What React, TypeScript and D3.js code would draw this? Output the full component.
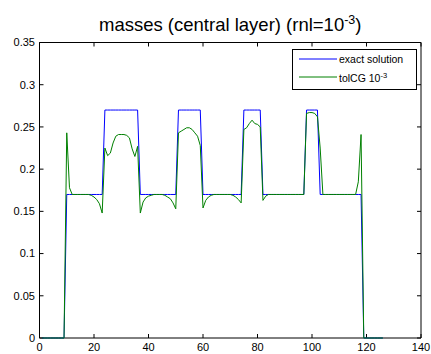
import React from 'react';
import * as d3 from 'd3';

// grid index of the first sample
const X_START = 1;

// exact solution, x = 1..126
const exactSolution = [
  0, 0, 0, 0, 0, 0, 0, 0, 0,
  0.17, 0.17, 0.17, 0.17, 0.17, 0.17, 0.17, 0.17, 0.17, 0.17, 0.17, 0.17, 0.17, 0.17,
  0.27, 0.27, 0.27, 0.27, 0.27, 0.27, 0.27, 0.27, 0.27, 0.27, 0.27, 0.27, 0.27,
  0.17, 0.17, 0.17, 0.17, 0.17, 0.17, 0.17, 0.17, 0.17, 0.17, 0.17, 0.17, 0.17, 0.17,
  0.27, 0.27, 0.27, 0.27, 0.27, 0.27, 0.27, 0.27, 0.27,
  0.17, 0.17, 0.17, 0.17, 0.17, 0.17, 0.17, 0.17, 0.17, 0.17, 0.17, 0.17, 0.17, 0.17, 0.17,
  0.27, 0.27, 0.27, 0.27, 0.27, 0.27, 0.27,
  0.17, 0.17, 0.17, 0.17, 0.17, 0.17, 0.17, 0.17, 0.17, 0.17, 0.17, 0.17, 0.17, 0.17, 0.17, 0.17,
  0.27, 0.27, 0.27, 0.27, 0.27,
  0.17, 0.17, 0.17, 0.17, 0.17, 0.17, 0.17, 0.17, 0.17, 0.17, 0.17, 0.17, 0.17, 0.17, 0.17, 0.17,
  0, 0, 0, 0, 0, 0, 0, 0,
];

// tolCG 10^-3 solution, x = 1..126
const tolCG = [
  0, 0, 0, 0, 0, 0, 0, 0, 0,
  0.243, 0.178, 0.17, 0.17, 0.17, 0.17, 0.17, 0.17, 0.17, 0.169, 0.167, 0.164, 0.159, 0.148,
  0.225, 0.216, 0.219, 0.231, 0.239, 0.241, 0.241, 0.241, 0.24, 0.237, 0.224, 0.215, 0.227,
  0.148, 0.161, 0.166, 0.168, 0.169, 0.17, 0.17, 0.17, 0.17, 0.169, 0.167, 0.165, 0.16, 0.153,
  0.243, 0.245, 0.247, 0.249, 0.249, 0.247, 0.243, 0.239, 0.228,
  0.154, 0.163, 0.167, 0.169, 0.17, 0.17, 0.17, 0.17, 0.17, 0.17, 0.17, 0.169, 0.167, 0.164, 0.16,
  0.247, 0.249, 0.254, 0.258, 0.254, 0.253, 0.25,
  0.163, 0.168, 0.17, 0.17, 0.17, 0.17, 0.17, 0.17, 0.17, 0.17, 0.17, 0.17, 0.17, 0.17, 0.17, 0.17,
  0.266, 0.267, 0.267, 0.266, 0.262,
  0.225, 0.17, 0.17, 0.17, 0.17, 0.17, 0.17, 0.17, 0.17, 0.17, 0.17, 0.17, 0.17, 0.17, 0.185, 0.241,
  0, 0, 0, 0, 0, 0, 0, 0,
];

const xTicks = [0, 20, 40, 60, 80, 100, 120, 140];
const yTicks = [0, 0.05, 0.1, 0.15, 0.2, 0.25, 0.3, 0.35];
const yTickLabels = ['0', '0.05', '0.1', '0.15', '0.2', '0.25', '0.3', '0.35'];

const FONT = "'Liberation Sans', Arial, Helvetica, sans-serif";

export default function App() {
  const W = 431;
  const H = 354;
  const x = d3.scaleLinear().domain([0, 140]).range([39.5, 421]);
  const y = d3.scaleLinear().domain([0, 0.35]).range([338, 42.5]);
  const line = d3
    .line<number>()
    .x((_, i) => x(i + X_START))
    .y((d) => y(d));

  const x0 = x(0), x1 = x(140), y0 = y(0), y1 = y(0.35);
  const tickLen = 4;

  return (
    <svg
      width={W}
      height={H}
      style={{ position: 'absolute', left: 0, top: 0, background: '#fff' }}
      fontFamily={FONT}
    >
      <rect x={0} y={0} width={W} height={H} fill="#fff" />
      {/* title */}
      <text x={(x0 + x1) / 2} y={31} textAnchor="middle" fontSize={18.5} fill="#000">
        masses (central layer) (rnl=10
        <tspan dy={-7} fontSize={12.5}>-3</tspan>
        <tspan dy={7}>)</tspan>
      </text>

      {/* axes box */}
      <line x1={x0} x2={x1} y1={y1} y2={y1} stroke="#000" strokeWidth={1} />
      <line x1={x0} x2={x0} y1={y0} y2={y1} stroke="#000" strokeWidth={1} />
      <line x1={x0} x2={x1} y1={y0} y2={y0} stroke="#000" strokeWidth={1} />
      <line x1={x1} x2={x1} y1={y0} y2={y1} stroke="#000" strokeWidth={1} />

      {/* x ticks */}
      {xTicks.map((t) => (
        <g key={'xt' + t}>
          <line x1={x(t)} x2={x(t)} y1={y0} y2={y0 - tickLen} stroke="#000" />
          <line x1={x(t)} x2={x(t)} y1={y1} y2={y1 + tickLen} stroke="#000" />
          <text x={x(t)} y={351} textAnchor="middle" fontSize={11} fill="#000">
            {t}
          </text>
        </g>
      ))}

      {/* y ticks */}
      {yTicks.map((t, i) => (
        <g key={'yt' + t}>
          <line x1={x0} x2={x0 + tickLen} y1={y(t)} y2={y(t)} stroke="#000" />
          <line x1={x1} x2={x1 - tickLen} y1={y(t)} y2={y(t)} stroke="#000" />
          <text x={35} y={y(t)} dy="0.35em" textAnchor="end" fontSize={11} fill="#000">
            {yTickLabels[i]}
          </text>
        </g>
      ))}

      {/* data */}
      <path d={line(exactSolution) || ''} fill="none" stroke="#0000ff" strokeWidth={1} />
      <path d={line(tolCG) || ''} fill="none" stroke="#008000" strokeWidth={1} />

      {/* legend */}
      <g>
        <rect x={292.5} y={49.5} width={124} height={40} fill="#fff" stroke="#000" strokeWidth={1} />
        <line x1={299} x2={337} y1={59} y2={59} stroke="#0000ff" strokeWidth={1} />
        <text x={339} y={63} fontSize={10.5} fill="#000">exact solution</text>
        <line x1={299} x2={337} y1={77} y2={77} stroke="#008000" strokeWidth={1} />
        <text x={339} y={82} fontSize={10.5} fill="#000">
          tolCG 10
          <tspan dy={-4} fontSize={7.5}>-3</tspan>
        </text>
      </g>
    </svg>
  );
}
